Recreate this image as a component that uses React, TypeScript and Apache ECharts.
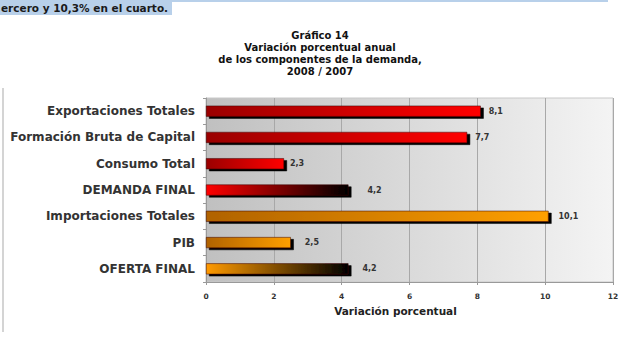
import React, { useEffect, useRef } from "react";
import * as echarts from "echarts";

const categories = [
  "Exportaciones Totales",
  "Formación Bruta de Capital",
  "Consumo Total",
  "DEMANDA FINAL",
  "Importaciones Totales",
  "PIB",
  "OFERTA FINAL",
];
const values = [8.1, 7.7, 2.3, 4.2, 10.1, 2.5, 4.2];
const xMin = 0;
const xMax = 12;
const xInterval = 2;
const titleLines = [
  "Gráfico 14",
  "Variación porcentual anual",
  "de los componentes de la demanda,",
  "2008 / 2007",
];
const xAxisName = "Variación porcentual";
const topText = "ercero y 10,3% en el cuarto.";

// styles (not data)
const barStops: string[][] = [
  ["#9a0000", "#ff0000"],
  ["#9a0000", "#ff0000"],
  ["#9a0000", "#ff0000"],
  ["#ff0000", "#000000"],
  ["#b06200", "#ffa000"],
  ["#b06200", "#ffa000"],
  ["#ff9a00", "#000000"],
];
const labelGaps = [8, 8, 6, 19, 10, 14, 14];
const FONT = "DejaVu Sans";

export default function App() {
  const ref = useRef<HTMLDivElement>(null);
  useEffect(() => {
    if (!ref.current) return;
    const chart = echarts.init(ref.current, undefined, { renderer: "svg" });
    const fmt = (v: number) => v.toFixed(1).replace(".", ",");
    chart.setOption({
      animation: false,
      backgroundColor: "#ffffff",
      title: {
        text: titleLines.join("\n"),
        left: "center",
        top: 24,
        textStyle: {
          fontFamily: FONT,
          fontWeight: "bold",
          fontSize: 10,
          lineHeight: 12,
          color: "#111",
        },
      },
      grid: {
        left: 206,
        right: 27,
        top: 98,
        bottom: 77,
        show: true,
        borderColor: "#c8c8c8",
        borderWidth: 1,
        backgroundColor: new echarts.graphic.LinearGradient(0, 0, 1, 0, [
          { offset: 0, color: "#c0c0c0" },
          { offset: 1, color: "#f4f4f4" },
        ]),
      },
      xAxis: {
        type: "value",
        min: xMin,
        max: xMax,
        interval: xInterval,
        name: xAxisName,
        nameLocation: "middle",
        nameGap: 23,
        nameTextStyle: {
          fontFamily: FONT,
          fontWeight: "bold",
          fontSize: 10.5,
          color: "#222",
          padding: [0, 28, 0, 0],
        },
        axisLine: { show: true, lineStyle: { color: "#999", width: 1 } },
        axisTick: { show: true, length: 3, lineStyle: { color: "#999" } },
        axisLabel: {
          fontFamily: FONT,
          fontWeight: "bold",
          fontSize: 7.5,
          color: "#333",
          margin: 10,
        },
        splitLine: { show: true, lineStyle: { color: "#a8a8a8", width: 1 } },
      },
      yAxis: {
        type: "category",
        data: categories,
        inverse: true,
        axisLine: { show: true, lineStyle: { color: "#999", width: 1 } },
        axisTick: { show: true, length: 3, inside: false, lineStyle: { color: "#999" } },
        axisLabel: {
          fontFamily: FONT,
          fontWeight: "bold",
          fontSize: 12,
          color: "#333",
          margin: 11,
        },
        splitLine: { show: false },
      },
      series: [
        {
          type: "bar",
          barWidth: 11,
          data: values.map((v, i) => ({
            value: v,
            itemStyle: {
              color: new echarts.graphic.LinearGradient(0, 0, 1, 0, [
                { offset: 0, color: barStops[i][0] },
                { offset: 1, color: barStops[i][1] },
              ]),
              borderColor: "#3a0000",
              borderWidth: 0.5,
              shadowColor: "#000",
              shadowOffsetX: 3,
              shadowOffsetY: 2,
              shadowBlur: 0,
            },
            label: { distance: labelGaps[i] },
          })),
          label: {
            show: true,
            position: "right",
            formatter: (p: any) => fmt(p.value),
            fontFamily: FONT,
            fontWeight: "bold",
            fontSize: 8,
            color: "#333",
          },
        },
      ],
      graphic: [
        { type: "rect", z: 100, shape: { x: 0, y: 0, width: 608, height: 2 }, style: { fill: "#b8d0ea" } },
        { type: "rect", z: 100, shape: { x: 0, y: 0, width: 172, height: 15 }, style: { fill: "#b8d0ea" } },
        {
          type: "text",
          z: 101,
          x: 1,
          y: 8,
          style: {
            text: topText,
            fontFamily: FONT,
            fontWeight: "bold",
            fontSize: 10.5,
            fill: "#1a1a1a",
            verticalAlign: "middle",
          },
        },
        { type: "line", z: 100, shape: { x1: 3, y1: 88, x2: 3, y2: 332 }, style: { stroke: "#d4d4d4", lineWidth: 2 } },
      ],
    });
    return () => chart.dispose();
  }, []);
  return (
    <div
      ref={ref}
      style={{ position: "absolute", left: 0, top: 0, width: 640, height: 359 }}
    />
  );
}
